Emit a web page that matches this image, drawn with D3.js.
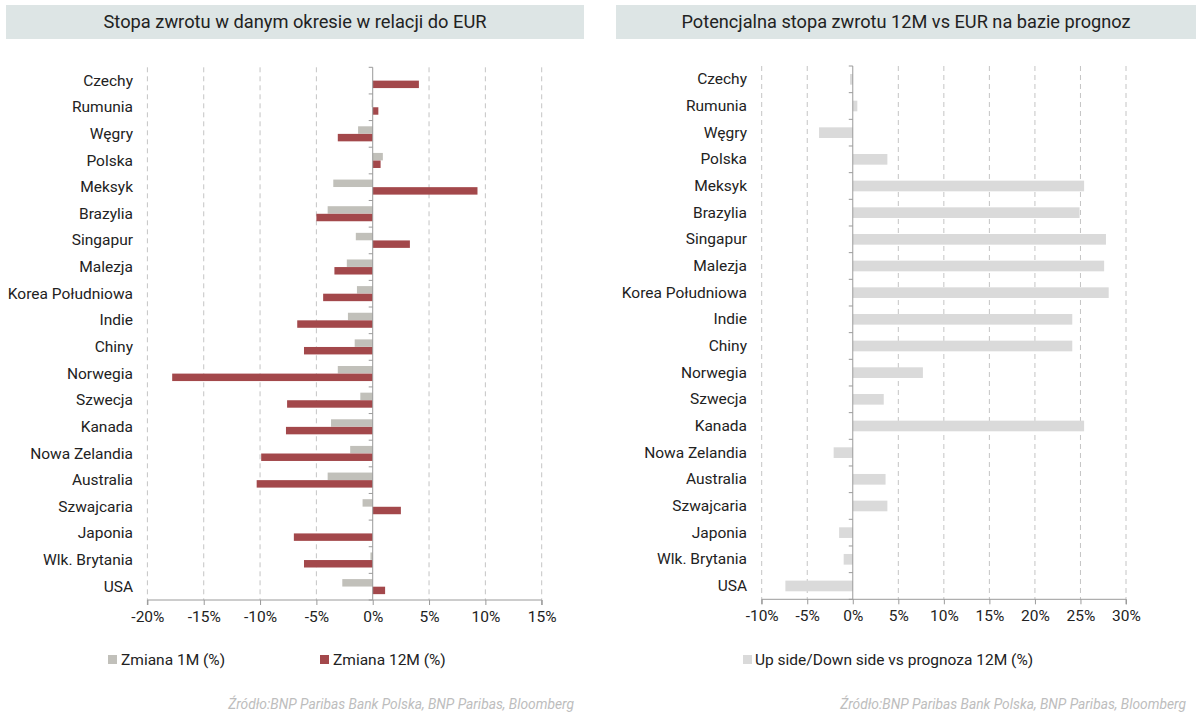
<!DOCTYPE html>
<html><head><meta charset="utf-8">
<script src="https://cdn.jsdelivr.net/npm/d3@7"></script>
<style>
body{margin:0;background:#fff;}
svg{display:block;font-family:"Roboto","Noto Sans",sans-serif;}
</style></head>
<body><svg id="c" width="1200" height="720"></svg>
<script>
const categories = ["Czechy","Rumunia","Węgry","Polska","Meksyk","Brazylia","Singapur","Malezja","Korea Południowa","Indie","Chiny","Norwegia","Szwecja","Kanada","Nowa Zelandia","Australia","Szwajcaria","Japonia","Wlk. Brytania","USA"];
const change1M = [0.0,-0.1,-1.3,0.9,-3.5,-4.0,-1.5,-2.3,-1.4,-2.2,-1.6,-3.1,-1.1,-3.7,-2.0,-4.0,-0.9,0.0,-0.2,-2.7];
const change12M = [4.1,0.5,-3.1,0.7,9.3,-5.0,3.3,-3.4,-4.4,-6.7,-6.1,-17.8,-7.6,-7.7,-9.9,-10.3,2.5,-7.0,-6.1,1.1];
const upside12M = [-0.3,0.5,-3.7,3.8,25.4,24.9,27.8,27.6,28.1,24.1,24.1,7.7,3.4,25.4,-2.1,3.6,3.8,-1.5,-1.0,-7.4];
const leftTicks = [-20,-15,-10,-5,0,5,10,15];
const rightTicks = [-10,-5,0,5,10,15,20,25,30];
const leftTitle = "Stopa zwrotu w danym okresie w relacji do EUR";
const rightTitle = "Potencjalna stopa zwrotu 12M vs EUR na bazie prognoz";
const legendLeft = ["Zmiana 1M (%)","Zmiana 12M (%)"];
const legendRight = "Up side/Down side vs prognoza 12M (%)";
const source = "Źródło:BNP Paribas Bank Polska, BNP Paribas, Bloomberg";

const svg = d3.select("#c");
const C_GRAY="#c1c0ba", C_RED="#a3484b", C_LIGHT="#dadada", C_AXIS="#9a9a9a", C_GRID="#c4c4c4";
const FS = 15.5;

function panel(opt){
  const g = svg.append("g");
  g.append("rect").attr("x",opt.tx).attr("y",5).attr("width",opt.tw).attr("height",34).attr("fill","#dde5e5");
  g.append("text").attr("x",opt.tx+opt.tw/2).attr("y",28).attr("text-anchor","middle")
    .attr("font-size",18).attr("fill","#222").attr("textLength",opt.titleLen).attr("lengthAdjust","spacingAndGlyphs").text(opt.title);
  const x = d3.scaleLinear().domain(opt.domain).range(opt.xr);
  const y = d3.scaleBand().domain(categories).range(opt.yr);
  g.selectAll(".grid").data(opt.ticks.filter(t=>t!==0)).join("line")
    .attr("x1",d=>x(d)).attr("x2",d=>x(d)).attr("y1",opt.yr[0]).attr("y2",opt.yr[1])
    .attr("stroke",C_GRID).attr("stroke-dasharray","5,4").attr("stroke-width",1);
  opt.series.forEach(s=>{
    g.selectAll(null).data(s.values).join("rect")
      .attr("x",d=>x(Math.min(0,d))).attr("width",d=>Math.abs(x(d)-x(0)))
      .attr("y",(d,i)=>y(categories[i])+s.off*y.bandwidth()).attr("height",s.h*y.bandwidth())
      .attr("fill",s.color);
  });
  const xa = g.append("g").attr("transform",`translate(0,${opt.yr[1]})`)
    .call(d3.axisBottom(x).tickValues(opt.ticks).tickFormat(d=>d+"%").tickSize(5).tickPadding(6));
  xa.select(".domain").attr("stroke",C_AXIS).attr("d",`M${opt.xr[0]},5V0H${opt.xr[1]}V5`);
  xa.selectAll(".tick line").attr("stroke",C_AXIS);
  xa.selectAll("text").attr("font-size",FS).attr("fill","#222").attr("font-family","Roboto,sans-serif");
  const ya = g.append("g");
  ya.append("line").attr("x1",x(0)).attr("x2",x(0)).attr("y1",opt.yr[0]).attr("y2",opt.yr[1]).attr("stroke",C_AXIS);
  const bounds = categories.map(c=>y(c)).concat([opt.yr[1]]);
  ya.selectAll(".yt").data(bounds).join("line").attr("x1",x(0)-4).attr("x2",x(0)).attr("y1",d=>d).attr("y2",d=>d).attr("stroke",C_AXIS);
  g.selectAll(".lab").data(categories).join("text")
    .attr("x",opt.labX).attr("y",d=>y(d)+y.bandwidth()/2+opt.labDy).attr("text-anchor","end")
    .attr("font-size",FS).attr("fill","#222").text(d=>d);
  g.append("text").attr("x",opt.srcX).attr("y",709).attr("text-anchor","end").attr("font-size",13.8)
    .attr("font-style","italic").attr("fill","#bdbdbd").text(source);
  return g;
}

panel({tx:6,tw:578,title:leftTitle,titleLen:383,domain:[-20,15],xr:[147.4,541.7],yr:[67.3,600],ticks:leftTicks,
  labX:133,labDy:5,srcX:574,
  series:[{values:change1M,color:C_GRAY,off:0.215,h:0.28},{values:change12M,color:C_RED,off:0.5,h:0.28}]});
panel({tx:616,tw:580,title:rightTitle,titleLen:449,domain:[-10,30],xr:[761.7,1126],yr:[66,599.3],ticks:rightTicks,
  labX:747,labDy:5,srcX:1186,
  series:[{values:upside12M,color:C_LIGHT,off:0.3,h:0.4}]});

const lg = svg.append("g").attr("font-size",FS).attr("fill","#222");
lg.append("rect").attr("x",108).attr("y",655).attr("width",9).attr("height",9).attr("fill",C_GRAY);
lg.append("text").attr("x",121).attr("y",665).text(legendLeft[0]);
lg.append("rect").attr("x",320).attr("y",655).attr("width",9).attr("height",9).attr("fill",C_RED);
lg.append("text").attr("x",333).attr("y",665).text(legendLeft[1]);
lg.append("rect").attr("x",743).attr("y",655).attr("width",9).attr("height",9).attr("fill",C_LIGHT);
lg.append("text").attr("x",755).attr("y",665).text(legendRight);
</script></body></html>
